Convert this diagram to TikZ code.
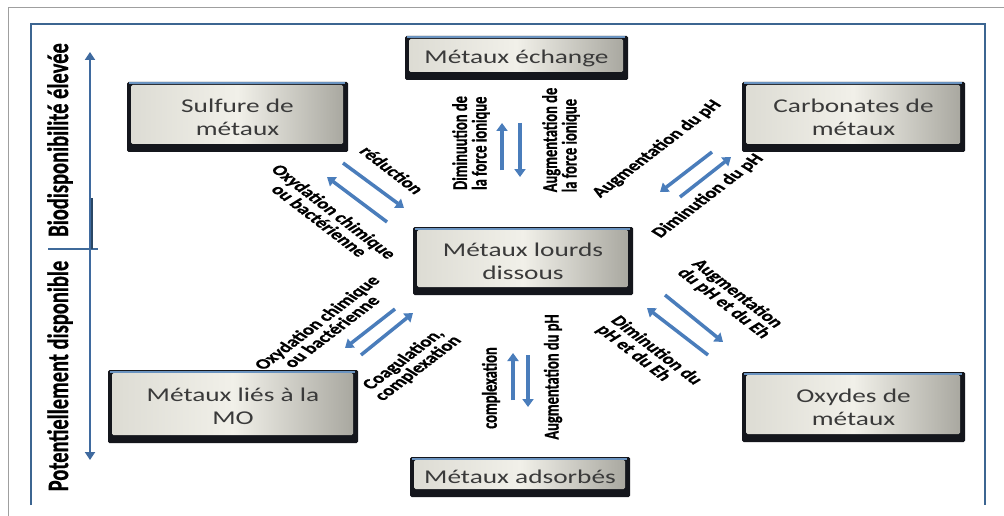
\documentclass[tikz,border=0pt]{standalone}
\usepackage{fontspec}
\usetikzlibrary{arrows.meta}
\newfontfamily\boxfont[FakeStretch=1.4]{Carlito}
\newfontfamily\labfont[BoldFeatures={FakeBold=0.8}]{Carlito}
\definecolor{arrowblue}{HTML}{4A7DBB}
\definecolor{frameblue}{HTML}{3C6591}
\definecolor{boxdark}{HTML}{14161C}
\definecolor{boxtop}{HTML}{6A93C0}
\definecolor{boxtext}{HTML}{3A3A3A}
\definecolor{boxL}{HTML}{DCDBD3}
\definecolor{boxM}{HTML}{F1F0E9}
\definecolor{boxR}{HTML}{A6A59D}
\newcommand\stlab[6]{%
  \begin{scope}[shift={(#2,#3)},xscale=1.45]
    \node[lab,align=#5,rotate=#4,transform shape] (#1) at (0,0) {#6};
  \end{scope}}
\begin{document}
\begin{tikzpicture}[x=1pt,y=-1pt,
  lab/.style={inner sep=0pt,text=black,font=\labfont\bfseries\fontsize{14.5}{13.5}\selectfont},
  mbox/.style={fill=boxdark, rounded corners=1.5pt, inner sep=0pt, align=center,
    text=boxtext, font=\boxfont\fontsize{19.5}{23}\selectfont,
    path picture={
      \shade[left color=boxL, right color=boxR, middle color=boxM]
        ([shift={(4pt,8pt)}]path picture bounding box.south west) rectangle
        ([shift={(-5pt,-3pt)}]path picture bounding box.north east);
      \draw[boxtop, line width=2pt]
        ([shift={(2pt,-1.5pt)}]path picture bounding box.north west) --
        ([shift={(-3pt,-1.5pt)}]path picture bounding box.north east);
    }},
  flow/.style={draw=arrowblue, line width=3.5pt, -{Triangle[width=11pt,length=8pt]}},
  sidearrow/.style={draw=arrowblue!85!black, line width=2.8pt,
    {Triangle[width=10pt,length=8pt]}-{Triangle[width=10pt,length=8pt]}}
]
\useasboundingbox (0,0) rectangle (1004,516);
\fill[white] (0,0) rectangle (1004,516);
% frames
\draw[gray!75, line width=1pt] (8,516) -- (8,8) -- (1004,8);
\draw[frameblue, line width=2pt] (31,505) -- (31,24) -- (985,24) -- (985,505);

% side scale
\coordinate (lt) at (90,52);
\coordinate (lb) at (90,460);
\draw[sidearrow] (lt) -- (lb);
\coordinate (d1) at (48,249);
\coordinate (d2) at (98,249);
\draw[frameblue!80!arrowblue, line width=1.5pt] (d1) -- (d2);
\coordinate (m1) at (92,198);
\coordinate (m2) at (92,249);
\draw[frameblue!70!black, line width=2pt] (m1) -- (m2);
\stlab{bio}{60}{140}{90}{center}{\fontsize{20.5}{22}\selectfont Biodisponibilité élevée}
\stlab{pot}{60}{376}{90}{center}{\fontsize{20.5}{22}\selectfont Potentiellement disponible}

% boxes
\node[mbox, minimum width=221pt, minimum height=70pt] (sulf) at (237.5,117) {Sulfure de\\métaux};
\node[mbox, minimum width=223pt, minimum height=44pt] (ech) at (516.5,58) {Métaux échange};
\node[mbox, minimum width=223pt, minimum height=70pt] (carb) at (853.5,117) {Carbonates de\\métaux};
\node[mbox, minimum width=220pt, minimum height=68pt] (diss) at (523,261) {Métaux lourds\\dissous};
\node[mbox, minimum width=250pt, minimum height=73pt] (mo) at (233,406.5) {Métaux liés à la\\MO};
\node[mbox, minimum width=220pt, minimum height=40pt] (ads) at (520,477) {Métaux adsorbés};
\node[mbox, minimum width=223pt, minimum height=70pt] (oxy) at (853.5,407) {Oxydes de\\métaux};

% arrows
\coordinate (s1a) at (343,163); \coordinate (s1b) at (404,208);
\coordinate (s2a) at (387,222); \coordinate (s2b) at (327,177);
\draw[flow] (s1a) -- (s1b);
\draw[flow] (s2a) -- (s2b);
\coordinate (e1a) at (502,170); \coordinate (e1b) at (502,123);
\coordinate (e2a) at (520,123); \coordinate (e2b) at (520,177);
\draw[flow] (e1a) -- (e1b);
\draw[flow] (e2a) -- (e2b);
\coordinate (c1a) at (712,152); \coordinate (c1b) at (660,192);
\coordinate (c2a) at (680,197); \coordinate (c2b) at (731,157);
\draw[flow] (c1a) -- (c1b);
\draw[flow] (c2a) -- (c2b);
\coordinate (o1a) at (395,309); \coordinate (o1b) at (345,348);
\coordinate (o2a) at (361,355); \coordinate (o2b) at (413,313);
\draw[flow] (o1a) -- (o1b);
\draw[flow] (o2a) -- (o2b);
\coordinate (a1a) at (513,400); \coordinate (a1b) at (513,353);
\coordinate (a2a) at (528,355); \coordinate (a2b) at (528,407);
\draw[flow] (a1a) -- (a1b);
\draw[flow] (a2a) -- (a2b);
\coordinate (x1a) at (665,295); \coordinate (x1b) at (723,342);
\coordinate (x2a) at (708,355); \coordinate (x2b) at (647,308);
\draw[flow] (x1a) -- (x1b);
\draw[flow] (x2a) -- (x2b);

% labels
\stlab{lred}{392}{170}{-48}{center}{réduction}
\stlab{loxs}{327}{216}{-48}{center}{Oxydation chimique\\ou bactérienne}
\stlab{ldimI}{471}{143}{90}{left}{Diminuution de\\la force ionique}
\stlab{laugI}{561}{140}{90}{left}{Augmentation de\\la force ionique}
\stlab{laugC}{657}{149}{48}{center}{Augmentation du pH}
\stlab{ldimC}{708}{196}{48}{center}{Diminution du pH}
\stlab{loxM}{324}{327}{48}{center}{Oxydation chimique\\ou bactérienne}
\stlab{lcoag}{411}{364}{48}{center}{Coagulation,\\complexation}
\stlab{lcomp}{491}{388}{90}{center}{complexation}
\stlab{laugA}{553}{377}{90}{center}{Augmentation du pH}
\stlab{laugO}{731}{299}{-48}{left}{Augmentation\\du pH et du Eh}
\stlab{ldimO}{649}{355}{-48}{left}{Diminution du\\pH et du Eh}
\end{tikzpicture}
\end{document}
